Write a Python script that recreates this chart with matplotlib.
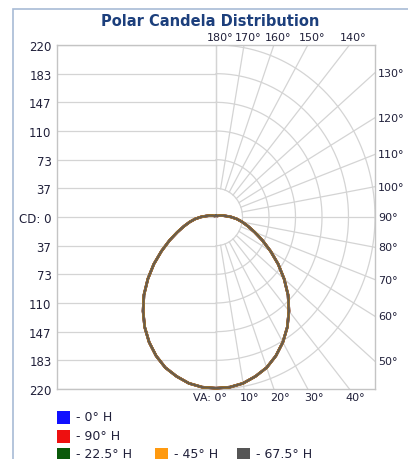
import numpy as np
import matplotlib
matplotlib.use("Agg")
import matplotlib.pyplot as plt
from matplotlib.patches import Rectangle
import matplotlib.transforms as mtransforms

# vertical angles (0 = nadir) and candela values, same for every H plane
va_angles = np.arange(0, 185, 5)
candela = [219, 218.5, 216, 211, 205, 196, 185, 172, 157, 141, 123, 105, 87, 71,
           57, 46, 37, 29, 21, 14, 10, 7, 5, 4, 3, 3, 2, 2, 2, 2, 2, 2, 2, 2, 2, 2, 2]

h_planes = ["0° H", "90° H", "22.5° H", "45° H", "67.5° H"]
plane_colors = ["#1010ff", "#ee1010", "#0a5a0a", "#ff9a10", "#555555"]

cd_max = 220
cd_ticks = np.linspace(-cd_max, cd_max, 13)
cd_labels = ["220", "183", "147", "110", "73", "37", "CD: 0",
             "37", "73", "110", "147", "183", "220"]
grid_angles = np.arange(0, 190, 10)

W, H = 408, 460
fig = plt.figure(figsize=(W / 100, H / 100), dpi=100)
fig.patch.set_facecolor("white")

# outer panel frame
fig.patches.append(Rectangle((13 / W, -0.1), 1.2, 1 - 10 / H + 0.1,
                             transform=fig.transFigure, fill=False,
                             edgecolor="#a8bbd6", linewidth=1.2))

ax = fig.add_axes([57 / W, (H - 390) / H, 318 / W, 344 / H])
ax.set_xlim(-cd_max, cd_max)
ax.set_ylim(-cd_max, cd_max)
for s in ax.spines.values():
    s.set_color("#c4c4c4")
    s.set_linewidth(1.0)

gcol = "#d4d4d4"
glw = 0.9
step = cd_max / 6

# left half: horizontal lines
for y in cd_ticks:
    ax.plot([-cd_max, 0], [y, y], color=gcol, lw=glw, zorder=1)
ax.axvline(0, color=gcol, lw=glw, zorder=1)

# right half: polar grid
t = np.radians(np.linspace(0, 180, 200))
for k in range(1, 7):
    r = k * step
    ax.plot(r * np.sin(t), -r * np.cos(t), color=gcol, lw=glw, zorder=1)
for a in grid_angles:
    ar = np.radians(a)
    ax.plot([step * np.sin(ar), 400 * np.sin(ar)],
            [-step * np.cos(ar), -400 * np.cos(ar)], color=gcol, lw=glw, zorder=1)

# candela curves (0..180 on the right, mirrored plane on the left)
th = np.radians(va_angles)
I = np.array(candela)
x = np.concatenate([-I[::-1] * np.sin(th[::-1]), I * np.sin(th)])
y = np.concatenate([-I[::-1] * np.cos(th[::-1]), -I * np.cos(th)])
for i, (name, col) in enumerate(zip(h_planes, plane_colors)):
    last = i == len(h_planes) - 1
    ax.plot(x, y, color=col, lw=1.6 if last else 1.9, alpha=0.9 if last else 1.0,
            zorder=3 + i, clip_on=False)

# y labels
ax.set_yticks(cd_ticks)
ax.set_yticklabels(cd_labels)
ax.set_xticks([])
ax.tick_params(axis="y", length=0, pad=4, labelsize=8.5, labelcolor="#20203a")

# angle labels on the frame
tc = "#20203a"
fs = 8
for a in grid_angles:
    ar = np.radians(a)
    sx, sy = np.sin(ar), -np.cos(ar)
    tt = min(cd_max / abs(sx) if abs(sx) > 1e-9 else 1e9,
             cd_max / abs(sy) if abs(sy) > 1e-9 else 1e9)
    px, py = tt * sx, tt * sy
    if abs(py - cd_max) < 1e-6:
        off = mtransforms.offset_copy(ax.transData, fig=fig, x=4, y=3, units="dots")
        ax.text(px, py, f"{a}°", transform=off, ha="center", va="bottom",
                fontsize=fs, color=tc)
    elif abs(py + cd_max) < 1e-6:
        if a == 0:
            off = mtransforms.offset_copy(ax.transData, fig=fig, x=11, y=-3, units="dots")
            ax.text(px, py, "VA: 0°", transform=off, ha="right", va="top",
                    fontsize=fs, color=tc)
        else:
            off = mtransforms.offset_copy(ax.transData, fig=fig, x=6, y=-3, units="dots")
            ax.text(px, py, f"{a}°", transform=off, ha="center", va="top",
                    fontsize=fs, color=tc)
    else:
        off = mtransforms.offset_copy(ax.transData, fig=fig, x=3, y=0, units="dots")
        ax.text(px, py, f"{a}°", transform=off, ha="left", va="center",
                fontsize=fs, color=tc)

fig.text(210 / W, 1 - 22 / H, "Polar Candela Distribution", ha="center",
         va="center", fontsize=10.5, fontweight="bold", color="#1c3f7c")

# legend
leg_pos = [(57, 418), (57, 437), (57, 455), (155, 455), (237, 455)]
for (lx, ly), name, col in zip(leg_pos, h_planes, plane_colors):
    fig.patches.append(Rectangle((lx / W, (H - ly - 6.5) / H), 13 / W, 13 / H,
                                 transform=fig.transFigure, facecolor=col,
                                 edgecolor="none"))
    fig.text((lx + 19) / W, (H - ly) / H, "- " + name, ha="left", va="center",
             fontsize=9, color=tc)

fig.savefig("out.png", dpi=100)
